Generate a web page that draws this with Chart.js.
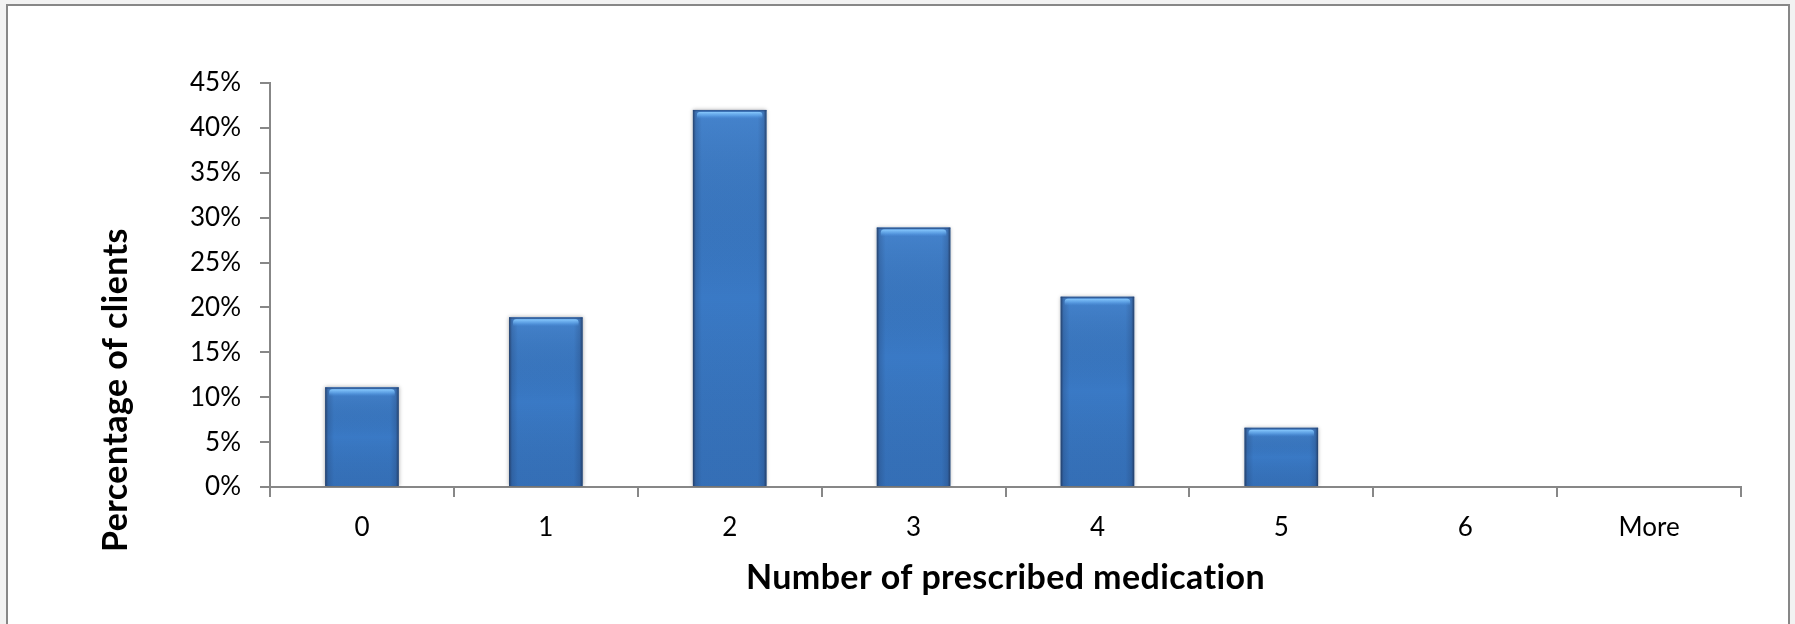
<!DOCTYPE html>
<html>
<head>
<meta charset="utf-8">
<script src="https://cdn.jsdelivr.net/npm/chart.js@4.4.1/dist/chart.umd.min.js"></script>
<style>
  html, body { margin: 0; padding: 0; width: 1795px; height: 624px; overflow: hidden; background: #f2f2f2; }
  #frame { position: absolute; left: 6px; top: 4px; width: 1780px; height: 700px; border: 2px solid #878787; background: #fff; }
  #chart { position: absolute; left: 0; top: 0; }
</style>
</head>
<body>
<div id="frame"></div>
<canvas id="chart" width="1795" height="624"></canvas>
<script>
// Distribution of clients by number of prescribed medications
const categories = ['0', '1', '2', '3', '4', '5', '6', 'More'];
const percentClients = [11.1, 18.9, 42.0, 28.9, 21.2, 6.6, 0, 0];
const yTickLabels = ['0%', '5%', '10%', '15%', '20%', '25%', '30%', '35%', '40%', '45%'];
const xTitle = 'Number of prescribed medication';
const yTitle = 'Percentage of clients';

const AXIS_GRAY = '#878787';

// Glossy column look: soft outer shadow, darker side edges, light band at the top
const barGloss = {
  id: 'barGloss',
  beforeDatasetsDraw(chart) {
    const ctx = chart.ctx;
    ctx.save();
    ctx.shadowColor = 'rgba(0,0,0,0.35)';
    ctx.shadowBlur = 4;
    ctx.shadowOffsetX = 0;
    ctx.shadowOffsetY = 0;
  },
  afterDatasetsDraw(chart) {
    const ctx = chart.ctx;
    ctx.restore();
    const meta = chart.getDatasetMeta(0);
    ctx.save();
    meta.data.forEach(bar => {
      const { x, y, base, width } = bar.getProps(['x', 'y', 'base', 'width'], true);
      const h = base - y;
      if (h < 1) return;
      const l = x - width / 2;
      const r = x + width / 2;

      // vertical shading: slightly lighter at the top, deeper at the bottom
      let g = ctx.createLinearGradient(0, y, 0, base);
      g.addColorStop(0, 'rgba(120,180,245,0.2)');
      g.addColorStop(0.5, 'rgba(0,0,0,0)');
      g.addColorStop(1, 'rgba(20,45,90,0.14)');
      ctx.fillStyle = g;
      ctx.fillRect(l, y, width, h);

      // side edges
      g = ctx.createLinearGradient(l, 0, r, 0);
      g.addColorStop(0, 'rgba(30,45,75,0.75)');
      g.addColorStop(0.04, 'rgba(30,50,90,0.25)');
      g.addColorStop(0.12, 'rgba(30,50,90,0.05)');
      g.addColorStop(0.88, 'rgba(30,50,90,0.05)');
      g.addColorStop(0.96, 'rgba(30,50,90,0.25)');
      g.addColorStop(1, 'rgba(30,45,75,0.75)');
      ctx.fillStyle = g;
      ctx.fillRect(l, y, width, h);

      // thin dark top edge
      ctx.fillStyle = 'rgba(40,70,120,0.6)';
      ctx.fillRect(l, y, width, 1.5);

      // highlight band under the top edge
      const bandTop = y + 2;
      const bandH = Math.min(7, h - 3);
      if (bandH > 1) {
        g = ctx.createLinearGradient(0, bandTop, 0, bandTop + bandH);
        g.addColorStop(0, 'rgba(140,205,255,0.95)');
        g.addColorStop(0.5, 'rgba(110,180,245,0.6)');
        g.addColorStop(1, 'rgba(80,150,230,0)');
        ctx.fillStyle = g;
        const bl = l + 4, bw = width - 8, rad = 3;
        ctx.beginPath();
        ctx.moveTo(bl + rad, bandTop);
        ctx.lineTo(bl + bw - rad, bandTop);
        ctx.quadraticCurveTo(bl + bw, bandTop, bl + bw, bandTop + rad);
        ctx.lineTo(bl + bw, bandTop + bandH);
        ctx.lineTo(bl, bandTop + bandH);
        ctx.lineTo(bl, bandTop + rad);
        ctx.quadraticCurveTo(bl, bandTop, bl + rad, bandTop);
        ctx.closePath();
        ctx.fill();
      }
    });
    ctx.restore();
  }
};

// Axis titles
const axisTitles = {
  id: 'axisTitles',
  afterDraw(chart) {
    const { ctx, chartArea } = chart;
    ctx.save();
    ctx.fillStyle = '#000';
    ctx.font = 'bold 34px Lato';
    ctx.letterSpacing = '0.4px';
    ctx.textAlign = 'center';
    ctx.textBaseline = 'alphabetic';
    ctx.fillText(xTitle, (chartArea.left + chartArea.right) / 2, 589);
    ctx.translate(127, 390);
    ctx.rotate(-Math.PI / 2);
    ctx.fillText(yTitle, 0, 0);
    ctx.restore();
  }
};

new Chart(document.getElementById('chart'), {
  type: 'bar',
  data: {
    labels: categories,
    datasets: [{
      data: percentClients,
      backgroundColor: '#3b7dcb',
      borderWidth: 0,
      barPercentage: 0.4,
      categoryPercentage: 1.0
    }]
  },
  options: {
    responsive: false,
    animation: false,
    events: [],
    layout: { padding: { left: 0, top: 83, right: 54, bottom: 0 } },
    plugins: {
      legend: { display: false },
      tooltip: { enabled: false },
      title: { display: false }
    },
    scales: {
      x: {
        grid: { drawOnChartArea: false, drawTicks: true, tickLength: 10, color: AXIS_GRAY, lineWidth: 2, offset: true },
        border: { display: true, color: AXIS_GRAY, width: 2 },
        ticks: { color: '#000', font: { family: 'Lato', size: 26 }, padding: 15, maxRotation: 0 },
        afterFit(scale) { scale.height = 137; }
      },
      y: {
        min: 0,
        max: 45,
        grid: { drawOnChartArea: false, drawTicks: true, tickLength: 10, color: AXIS_GRAY, lineWidth: 2 },
        border: { display: true, color: AXIS_GRAY, width: 2 },
        ticks: {
          stepSize: 5,
          color: '#000',
          font: { family: 'Lato', size: 26 },
          padding: 19,
          callback: (value, index) => yTickLabels[index]
        },
        afterFit(scale) { scale.width = 270; }
      }
    }
  },
  plugins: [barGloss, axisTitles]
});
</script>
</body>
</html>
